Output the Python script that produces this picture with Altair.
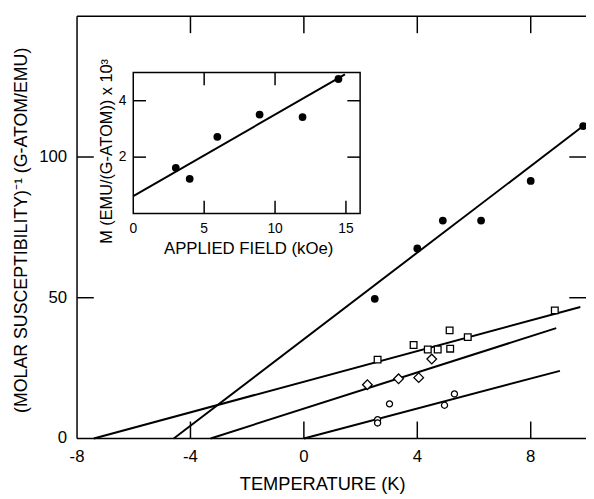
import altair as alt
import pandas as pd

FONT = "Liberation Sans"

# ---------------- main panel: (molar susceptibility)^-1 vs temperature ----------------
T_DOMAIN = [-8, 9.95]
CHI_DOMAIN = [0, 150]
T_TICKS = [-8, -4, 0, 4, 8]
T_TICK_LABELS = ["-8", "-4", "0", "4", "8"]
T_INNER_TICKS = [-4, 0, 4, 8]
CHI_TICKS = [0, 50, 100]
CHI_TICK_LABELS = ["0", "50", "100"]
CHI_INNER_TICKS = [50, 100]
X_TITLE = "TEMPERATURE (K)"
Y_TITLE = "(MOLAR SUSCEPTIBILITY)\u207b\u00b9  (G-ATOM/EMU)"

filled_T = [2.5, 4.0, 4.9, 6.25, 8.0, 9.85]
filled_chi = [49.6, 67.5, 77.4, 77.4, 91.5, 111.0]

square_T = [2.6, 3.87, 4.37, 4.72, 5.14, 5.16, 5.78, 8.85]
square_chi = [28.0, 33.2, 31.6, 31.6, 38.4, 31.9, 36.0, 45.5]

diamond_T = [2.24, 3.34, 4.05, 4.51]
diamond_chi = [19.1, 21.2, 21.6, 28.2]

circle_T = [2.6, 2.6, 3.02, 4.96, 5.31]
circle_chi = [6.7, 5.5, 12.3, 11.8, 15.8]

fit_series = ["filled", "filled", "square", "square", "diamond", "diamond", "circle", "circle"]
fit_T = [-4.59, 9.85, -7.41, 9.75, -3.29, 8.9, 0.0, 9.03]
fit_chi = [0.0, 111.0, 0.0, 46.7, 0.0, 39.2, 0.0, 24.0]

# tick lengths, in data units
TICK_LEN_T = 0.59
TICK_LEN_CHI = 6.0

# ---------------- inset: magnetization vs applied field ----------------
FIELD_DOMAIN = [0, 16]
M_DOMAIN = [0, 5]
FIELD_TICKS = [0, 5, 10, 15]
FIELD_TICK_LABELS = ["0", "5", "10", "15"]
FIELD_BOTTOM_TICKS = [5, 10, 15]
FIELD_TOP_TICKS = [5, 10]
M_TICKS = [2, 4]
M_TICK_LABELS = ["2", "4"]
INSET_X_TITLE = "APPLIED FIELD (kOe)"
INSET_Y_TITLE = "M (EMU/(G-ATOM)) x 10\u00b3"

inset_field = [3.0, 3.98, 5.93, 8.91, 11.94, 14.47]
inset_M = [1.62, 1.23, 2.72, 3.51, 3.42, 4.77]
inset_fit_field = [0.0, 14.93]
inset_fit_M = [0.62, 4.93]

TICK_LEN_FIELD = 0.9
TICK_LEN_M = 0.45

# ---------------- layout ----------------
W, H = 516, 428
PAD = {"left": 70, "top": 5, "right": 0, "bottom": 58}
INSET_X_RANGE = [57, 287]
INSET_Y_RANGE = [200, 57]

xs = alt.Scale(domain=T_DOMAIN, nice=False, zero=False)
ys = alt.Scale(domain=CHI_DOMAIN, nice=False, zero=False)
ixs = alt.Scale(domain=FIELD_DOMAIN, range=INSET_X_RANGE, nice=False, zero=False)
iys = alt.Scale(domain=M_DOMAIN, range=INSET_Y_RANGE, nice=False, zero=False)


def XQ(f, sc):
    return alt.X(f, type="quantitative", scale=sc, axis=None)


def YQ(f, sc):
    return alt.Y(f, type="quantitative", scale=sc, axis=None)


def tick_segments(x_dom, y_dom, bottom, top, left, right, lx, ly):
    ids, tt, vv = [], [], []
    k = 0
    for t in bottom:
        ids += [k, k]; tt += [t, t]; vv += [y_dom[0], y_dom[0] + ly]; k += 1
    for t in top:
        ids += [k, k]; tt += [t, t]; vv += [y_dom[1], y_dom[1] - ly]; k += 1
    for v in left:
        ids += [k, k]; tt += [x_dom[0], x_dom[0] + lx]; vv += [v, v]; k += 1
    for v in right:
        ids += [k, k]; tt += [x_dom[1], x_dom[1] - lx]; vv += [v, v]; k += 1
    return pd.DataFrame({"id": ids, "t": tt, "v": vv})


def label_layer(t_vals, v_vals, texts, scx, scy, size, **kw):
    df = pd.DataFrame({"t": t_vals, "v": v_vals, "s": texts})
    return alt.Chart(df).mark_text(font=FONT, fontSize=size, color="black", **kw).encode(
        x=XQ("t", scx), y=YQ("v", scy), text="s:N")


def title_layer(text, px, py, size, angle=0):
    df = pd.DataFrame({"s": [text]})
    return alt.Chart(df).mark_text(font=FONT, fontSize=size, color="black", angle=angle,
                                   align="center", baseline="middle").encode(
        x=alt.value(px), y=alt.value(py), text="s:N")


# ---- main layers ----
frame_h = alt.Chart(pd.DataFrame({"v": CHI_DOMAIN})).mark_rule(color="black", strokeWidth=1.5).encode(
    y=YQ("v", ys))
frame_v = alt.Chart(pd.DataFrame({"t": [T_DOMAIN[0]]})).mark_rule(color="black", strokeWidth=1.5).encode(
    x=XQ("t", xs))

main_ticks = alt.Chart(tick_segments(T_DOMAIN, CHI_DOMAIN, T_INNER_TICKS, T_INNER_TICKS,
                                     CHI_INNER_TICKS, CHI_INNER_TICKS, TICK_LEN_T, TICK_LEN_CHI)
                       ).mark_line(color="black", strokeWidth=1.5).encode(
    x=XQ("t", xs), y=YQ("v", ys), detail="id:N")

fits = alt.Chart(pd.DataFrame({"s": fit_series, "T": fit_T, "v": fit_chi})).mark_line(
    color="black", strokeWidth=2).encode(x=XQ("T", xs), y=YQ("v", ys), detail="s:N")

filled = alt.Chart(pd.DataFrame({"T": filled_T, "v": filled_chi})).mark_point(
    shape="circle", filled=True, color="black", size=62, opacity=1).encode(
    x=XQ("T", xs), y=YQ("v", ys))

squares = alt.Chart(pd.DataFrame({"T": square_T, "v": square_chi})).mark_point(
    shape="square", filled=True, fill="white", stroke="black", strokeWidth=1.3, size=46, opacity=1).encode(
    x=XQ("T", xs), y=YQ("v", ys))

diamonds = alt.Chart(pd.DataFrame({"T": diamond_T, "v": diamond_chi})).mark_point(
    shape="diamond", filled=True, fill="white", stroke="black", strokeWidth=1.3, size=95, opacity=1).encode(
    x=XQ("T", xs), y=YQ("v", ys))

circles = alt.Chart(pd.DataFrame({"T": circle_T, "v": circle_chi})).mark_point(
    shape="circle", filled=True, fill="white", stroke="black", strokeWidth=1.3, size=38, opacity=1).encode(
    x=XQ("T", xs), y=YQ("v", ys))

main_texts = [
    label_layer(T_TICKS, [CHI_DOMAIN[0]] * len(T_TICKS), T_TICK_LABELS, xs, ys, 17,
                align="center", baseline="top", dy=11),
    label_layer([T_DOMAIN[0]] * len(CHI_TICKS), CHI_TICKS, CHI_TICK_LABELS, xs, ys, 17,
                align="right", baseline="middle", dx=-10),
    title_layer(X_TITLE, 249, 474, 18.5),
    title_layer(Y_TITLE, -56, 217, 18, angle=270),
]

main = alt.layer(frame_h, frame_v, main_ticks, fits, filled, squares, diamonds, circles, *main_texts)

# ---- inset layers ----
inset_frame = alt.Chart(pd.DataFrame({"f0": [FIELD_DOMAIN[0]], "f1": [FIELD_DOMAIN[1]],
                                      "m0": [M_DOMAIN[0]], "m1": [M_DOMAIN[1]]})).mark_rect(
    fill="white", stroke="black", strokeWidth=1.5).encode(
    x=XQ("f0", ixs), x2="f1:Q", y=YQ("m0", iys), y2="m1:Q")

inset_ticks = alt.Chart(tick_segments(FIELD_DOMAIN, M_DOMAIN, FIELD_BOTTOM_TICKS, FIELD_TOP_TICKS,
                                      M_TICKS, M_TICKS, TICK_LEN_FIELD, TICK_LEN_M)
                        ).mark_line(color="black", strokeWidth=1.5).encode(
    x=XQ("t", ixs), y=YQ("v", iys), detail="id:N")

inset_line = alt.Chart(pd.DataFrame({"f": inset_fit_field, "m": inset_fit_M})).mark_line(
    color="black", strokeWidth=2).encode(x=XQ("f", ixs), y=YQ("m", iys))

inset_pts = alt.Chart(pd.DataFrame({"f": inset_field, "m": inset_M})).mark_point(
    shape="circle", filled=True, color="black", size=62, opacity=1).encode(
    x=XQ("f", ixs), y=YQ("m", iys))

inset_texts = [
    label_layer(FIELD_TICKS, [M_DOMAIN[0]] * len(FIELD_TICKS), FIELD_TICK_LABELS, ixs, iys, 14,
                align="center", baseline="top", dy=9),
    label_layer([FIELD_DOMAIN[0]] * len(M_TICKS), M_TICKS, M_TICK_LABELS, ixs, iys, 14,
                align="right", baseline="middle", dx=-7),
    title_layer(INSET_X_TITLE, 174, 236, 17),
    title_layer(INSET_Y_TITLE, 30, 137, 16.5, angle=270),
]

inset = alt.layer(inset_frame, inset_ticks, inset_line, inset_pts, *inset_texts)

chart = alt.layer(main, inset).resolve_scale(x="independent", y="independent").properties(
    width=W, height=H, autosize=alt.AutoSizeParams(type="none"), padding=PAD,
    background="white"
).configure_view(stroke="transparent")

chart.save("out.html", embed_options={"renderer": "svg", "actions": False})
